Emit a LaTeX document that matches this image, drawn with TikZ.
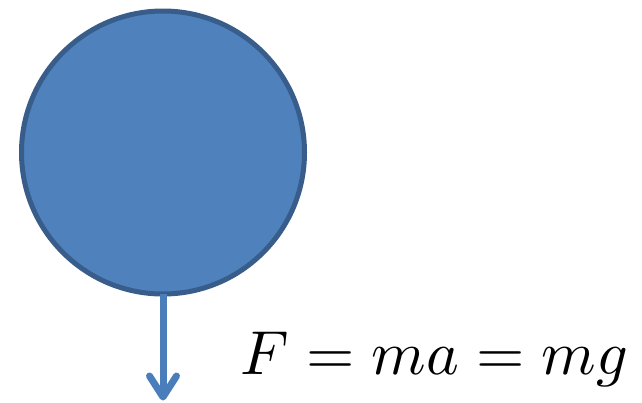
\documentclass[tikz,border=0pt]{standalone}
\usepackage{graphicx}
\usetikzlibrary{calc}
\definecolor{ballfill}{HTML}{4F81BD}
\definecolor{balledge}{HTML}{385D8A}
\definecolor{arrowcol}{HTML}{4A7EBB}
\begin{document}
\begin{tikzpicture}[x=1pt,y=-1pt,
  ballstyle/.style={circle, fill=ballfill, draw=balledge, line width=5pt, minimum size=283pt, inner sep=0pt, outer sep=0pt},
  forceline/.style={draw=arrowcol, line width=7pt, line cap=round, line join=round}]
\useasboundingbox (0,0) rectangle (642,402);
\node[ballstyle] (ball) at (163,152.5) {};
\coordinate (tip) at (163,397);
\draw[forceline, line cap=butt] (ball.south) -- (tip);
\draw[forceline] ($(tip)+(-13.5,-21)$) -- (tip) -- ($(tip)+(13.5,-21)$);
\node[anchor=base west, inner sep=0pt] (eq) at (240,374) {\resizebox{388pt}{!}{$F=ma=mg$}};
\end{tikzpicture}
\end{document}
